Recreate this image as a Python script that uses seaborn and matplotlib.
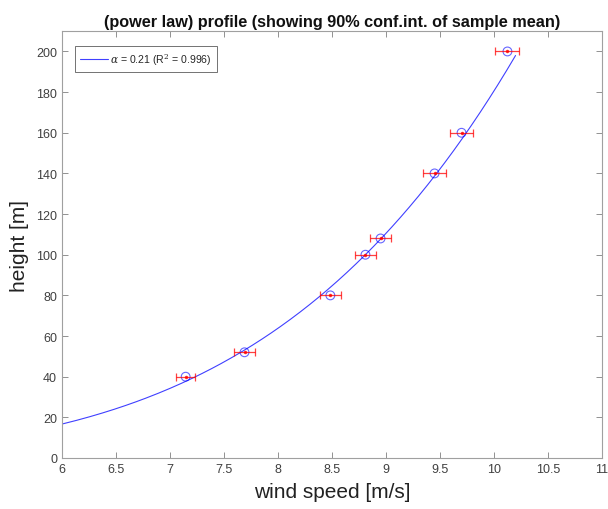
import numpy as np
import pandas as pd
import matplotlib
matplotlib.use('Agg')
import matplotlib.pyplot as plt
import seaborn as sns

# measured profile (mean wind speed per height) and 90% CI half-widths
height = [40, 52, 80, 100, 108, 140, 160, 200]
speed = [7.145, 7.69, 8.485, 8.81, 8.95, 9.45, 9.70, 10.125]
ci_half = [0.088, 0.093, 0.097, 0.10, 0.10, 0.106, 0.108, 0.111]

# fitted power law curve parameters
alpha_fit = 0.2146
u_ref = 10.2
h_ref = 198.0
h_min = 16.7
legend_label = r'$\alpha$ = 0.21 (R$^2$ = 0.996)'

sns.set_theme(style='white')
plt.rcParams['font.family'] = ['Liberation Sans', 'DejaVu Sans']
plt.rcParams['mathtext.fontset'] = 'dejavuserif'

fig = plt.figure(figsize=(6.08, 5.10), dpi=100)
ax = fig.add_axes([0.102, 0.1, 0.888, 0.837])

h_curve = np.linspace(h_min, h_ref, 300)
curve = pd.DataFrame({'u': u_ref * (h_curve / h_ref) ** alpha_fit, 'h': h_curve})
sns.lineplot(data=curve, x='u', y='h', sort=False, color='#0000ff', lw=0.8,
             alpha=0.75, ax=ax, label=legend_label)

ax.errorbar(speed, height, xerr=ci_half, fmt='.', color='red', ms=3,
            elinewidth=0.9, capsize=3, capthick=0.9, alpha=0.75)
pts = pd.DataFrame({'u': speed, 'h': height})
sns.scatterplot(data=pts, x='u', y='h', marker='o', s=40, facecolor='none',
                edgecolor='#0000ff', linewidth=0.8, alpha=0.6, ax=ax, legend=False)

ax.set_xlim(6, 11)
ax.set_ylim(0, 210)
ax.set_xticks(np.arange(6, 11.01, 0.5))
ax.set_xticklabels(['6', '6.5', '7', '7.5', '8', '8.5', '9', '9.5', '10', '10.5', '11'])
ax.set_yticks(np.arange(0, 201, 20))

for s in ax.spines.values():
    s.set_color('#a0a0a0')
    s.set_linewidth(0.8)
ax.tick_params(direction='in', length=4, width=0.6, color='#808080',
               labelsize=9, labelcolor='#404040', top=True, right=True,
               bottom=True, left=True)

ax.set_xlabel('wind speed [m/s]', fontsize=15, color='#222222', labelpad=5)
ax.set_ylabel('height [m]', fontsize=15, color='#222222', labelpad=5)
ax.set_title('(power law) profile (showing 90% conf.int. of sample mean)',
             fontsize=11.7, fontweight='bold', color='#111111', pad=4)

leg = ax.legend(loc='upper left', fontsize=7.6, frameon=True, fancybox=False,
                handlelength=2.6, handletextpad=0.25, borderpad=0.45,
                bbox_to_anchor=(0.015, 0.977))
leg.get_frame().set_edgecolor('#333333')
leg.get_frame().set_linewidth(0.6)

fig.savefig('out.png', dpi=100)
